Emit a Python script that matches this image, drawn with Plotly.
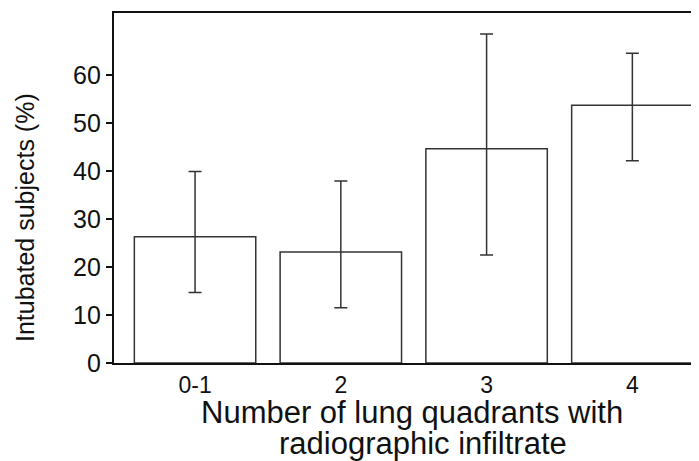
import plotly.graph_objects as go

categories = ["0-1", "2", "3", "4"]
pct = [26.3, 23.1, 44.6, 53.7]
upper = [39.9, 37.9, 68.5, 64.5]
lower = [14.7, 11.5, 22.5, 42.1]
y_ticks = [0, 10, 20, 30, 40, 50, 60]

err_plus = [u - v for u, v in zip(upper, pct)]
err_minus = [v - l for v, l in zip(pct, lower)]

FONT = "Liberation Sans, Arial, sans-serif"
W, H = 699, 461
OFF = 8  # page body margin offset
L, R, T, B = 114 - OFF, 0, 13 - OFF, H - (363 - OFF)

fig = go.Figure()
fig.add_trace(go.Bar(
    x=list(range(len(categories))), y=pct, width=0.833,
    marker=dict(color="white", line=dict(color="#333333", width=1.5)),
    error_y=dict(type="data", symmetric=False, array=err_plus, arrayminus=err_minus,
                 color="#333333", thickness=1.5, width=6.5),
    showlegend=False,
))

fig.update_layout(
    width=W, height=H,
    margin=dict(l=L, r=R, t=T, b=B, autoexpand=False),
    paper_bgcolor="white", plot_bgcolor="white",
    font=dict(family=FONT, color="#111111"),
    xaxis=dict(range=[-0.556, 3.512], tickmode="array",
               tickvals=list(range(len(categories))), ticktext=categories,
               showgrid=False, zeroline=False, showline=True, linecolor="#111111",
               linewidth=2.2, mirror=True, ticks="",
               tickfont=dict(size=23, family=FONT)),
    yaxis=dict(range=[0, 72.9], tickvals=y_ticks, showgrid=False, zeroline=False,
               showline=True, linecolor="#111111", linewidth=2.2,
               ticks="outside", ticklen=6, tickwidth=1.5, tickcolor="#111111",
               tickfont=dict(size=25, family=FONT)),
)

pw, ph = W - L - R, H - T - B
def px_x(x): return (x - OFF - L) / pw
def px_y(y): return (H - B - (y - OFF)) / ph

fig.add_annotation(text="Intubated subjects (%)", textangle=-90, xref="paper", yref="paper",
                   x=px_x(25), y=px_y(218), xanchor="center", yanchor="middle", showarrow=False,
                   font=dict(size=25, family=FONT, color="#111111"))
fig.add_annotation(text="Number of lung quadrants with", xref="paper", yref="paper",
                   x=px_x(412), y=px_y(412), xanchor="center", yanchor="middle", showarrow=False,
                   font=dict(size=31, family=FONT, color="#111111"))
fig.add_annotation(text="radiographic infiltrate", xref="paper", yref="paper",
                   x=px_x(423), y=px_y(443), xanchor="center", yanchor="middle", showarrow=False,
                   font=dict(size=31, family=FONT, color="#111111"))

fig.write_html("out.html")
